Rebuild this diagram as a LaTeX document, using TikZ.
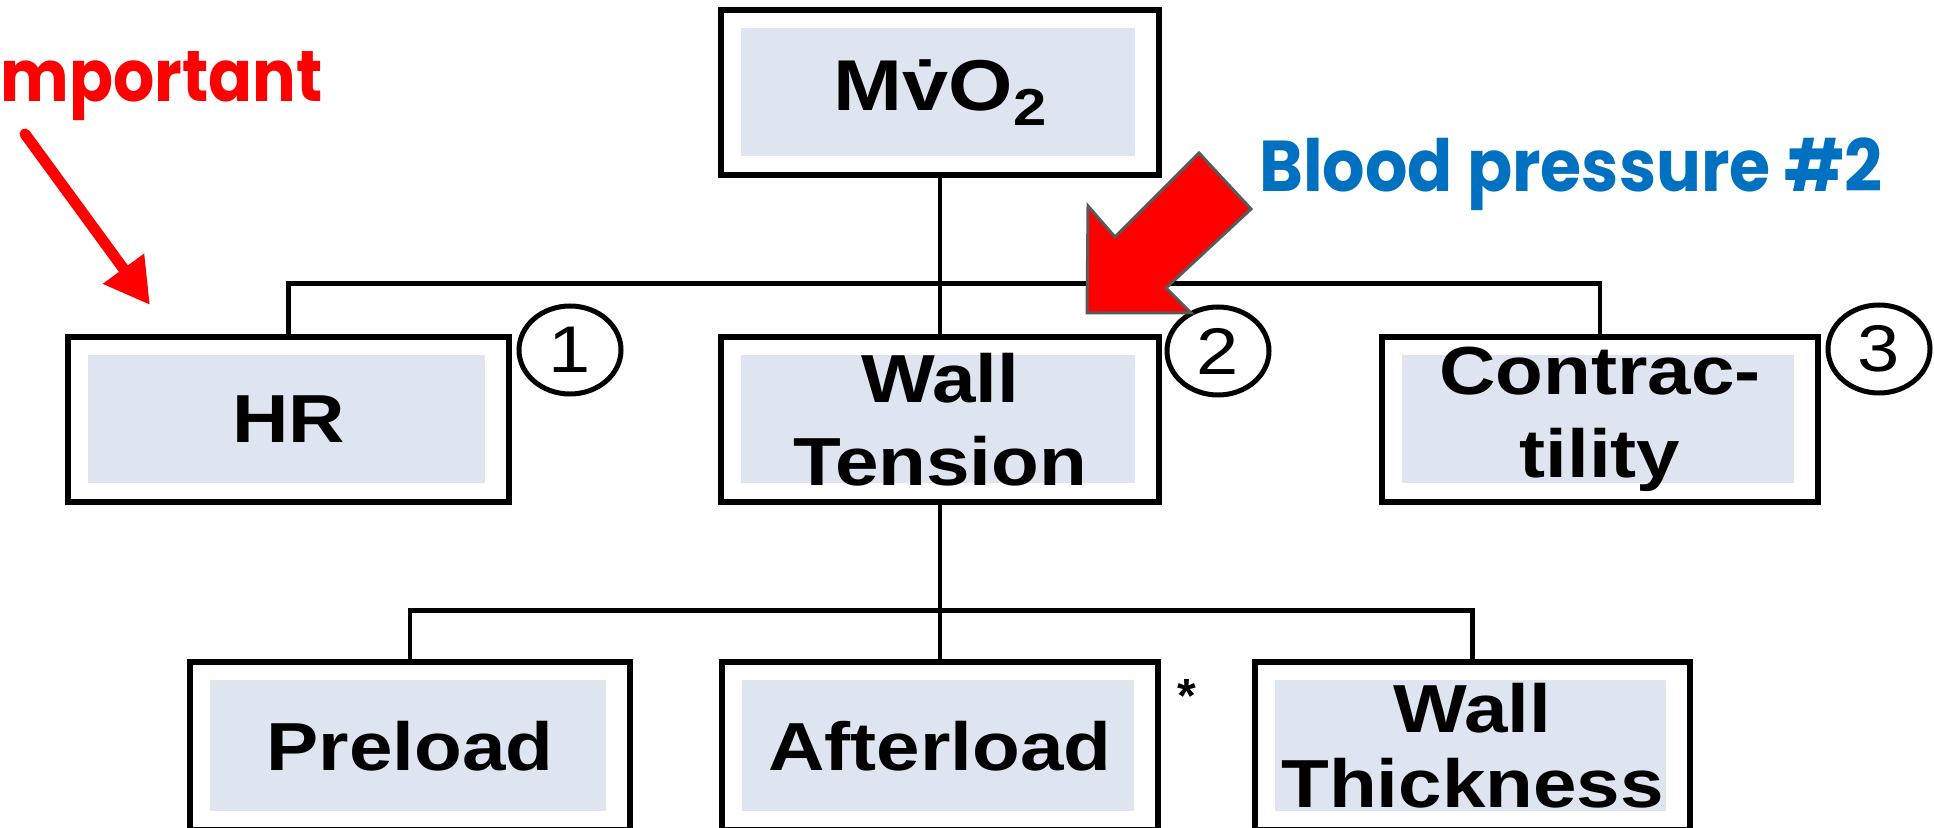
\documentclass[tikz,border=0pt]{standalone}
\usepackage{fontspec}
\usepackage{graphicx}
\setmainfont{Liberation Sans}
\newfontfamily\gothic{Poppins}
\usetikzlibrary{shapes.geometric,arrows.meta}
\definecolor{boxfill}{HTML}{DFE5F0}
\definecolor{bpblue}{HTML}{0070C0}
\definecolor{arrowgray}{HTML}{595959}
\newcommand\stretchtxt[1]{\scalebox{1.15}[1]{#1}}
\newcommand\narrowtxt[2][0.9]{\scalebox{#1}[1]{#2}}
\tikzset{
  boxnode/.style={draw, line width=2.6pt, fill=white, inner sep=0pt,
    minimum width=219pt, minimum height=82.5pt, align=center,
    font=\bfseries\fontsize{34}{41.5}\selectfont,
    path picture={\fill[boxfill]
      ([shift={(10pt,-9pt)}]path picture bounding box.north west) rectangle
      ([shift={(-12pt,9.5pt)}]path picture bounding box.south east);}},
  conn/.style={line width=2.2pt, black},
  numcirc/.style={draw, ellipse, line width=2.5pt, inner sep=0pt,
    minimum width=51pt, minimum height=44pt,
    font=\fontsize{33}{33}\selectfont},
  annot/.style={inner sep=0pt, anchor=base west,
    font=\gothic\bfseries\fontsize{36}{36}\selectfont}
}
\begin{document}
\begin{tikzpicture}[x=0.5pt,y=-0.5pt]
\useasboundingbox[fill=white] (0,0) rectangle (1934,828);
% boxes
\node[boxnode] (mvo) at (940,92.5) {\fontsize{36}{36}\selectfont\stretchtxt{M\.{v}O\raisebox{-7.5pt}{\fontsize{26}{26}\selectfont 2}}};
\node[boxnode, minimum width=220.5pt] (hr) at (288.5,419.5) {\stretchtxt{HR}};
\node[boxnode] (wt) at (940,419.5) {\stretchtxt{Wall}\\\stretchtxt{Tension}};
\node[boxnode, minimum width=218pt] (con) at (1600,419.5) {\stretchtxt{Contrac-}\\\stretchtxt{tility}};
\node[boxnode, minimum width=220pt, minimum height=84pt] (pre) at (410,746) {\stretchtxt{Preload}};
\node[boxnode, minimum width=218pt, minimum height=84pt] (aft) at (940,746) {\stretchtxt{Afterload}};
\node[boxnode, minimum width=217.5pt, minimum height=84pt,
  font=\bfseries\fontsize{34}{37.5}\selectfont] (wth) at (1472.5,746) {\stretchtxt{Wall}\\\stretchtxt{Thickness}};
% connectors
\path (mvo.south) ++(0,106) coordinate (j1);
\path (wt.south) ++(0,106) coordinate (j2);
\draw[conn] (mvo.south) -- (j1);
\draw[conn] (hr.north) |- (j1) -| (con.north);
\draw[conn] (j1) -- (wt.north);
\draw[conn] (wt.south) -- (j2);
\draw[conn] (pre.north) |- (j2) -| (wth.north);
\draw[conn] (j2) -- (aft.north);
% numbered circles
\node[numcirc] (n1) at (570,350) {\stretchtxt{1}};
\node[numcirc] (n2) at (1218,351) {\stretchtxt{2}};
\node[numcirc] (n3) at (1879,349) {\stretchtxt{3}};
\node[inner sep=0pt, font=\bfseries\fontsize{24}{24}\selectfont] (ast) at (1187,696) {*};
% annotations
\node[annot, text=red] (imp) at (0,102) {\narrowtxt{mportant}};
\node[annot, text=bpblue] (bp) at (1259,192) {\narrowtxt[0.925]{Blood pressure \#2}};
\coordinate (a1s) at (25,134);
\coordinate (a1e) at (150,305);
\draw[red, line width=5.5pt, line cap=round, -{Triangle[length=22.5pt,width=24pt]}] (a1s) -- (a1e);
\fill[red, draw=arrowgray, line width=1.5pt, line join=miter]
  (1199,153) -- (1251,209) -- (1166,288) -- (1191,313) -- (1087,313)
  -- (1088,206) -- (1115,237) -- cycle;
\end{tikzpicture}
\end{document}
